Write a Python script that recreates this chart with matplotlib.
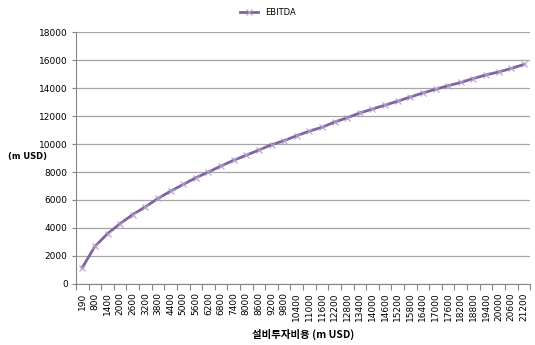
import matplotlib
matplotlib.use('Agg')
import matplotlib.pyplot as plt
import numpy as np

plt.rcParams['font.family'] = ['Noto Sans CJK KR', 'DejaVu Sans']

capex = [190] + list(range(800, 21201, 600))
ebitda = [1170, 2680, 3590, 4310, 4960, 5510, 6110, 6630, 7110, 7590,
          8000, 8430, 8840, 9200, 9570, 9950, 10240, 10600, 10920, 11200,
          11570, 11880, 12220, 12500, 12780, 13060, 13360, 13650, 13910, 14170,
          14400, 14680, 14940, 15150, 15400, 15690]
yticks = np.arange(0, 18001, 2000)

fig = plt.figure(figsize=(5.35, 3.45), dpi=100)
ax = fig.add_axes([0.142, 0.177, 0.849, 0.730])

x = np.arange(len(capex))
ax.plot(x, ebitda, color='#8064A2', lw=2, marker='x', ms=5, mew=0.8,
        mec='#B3A2C7', label='EBITDA', zorder=3)

ax.set_xlim(-0.5, len(capex) - 0.5)
ax.set_ylim(0, 18000)
ax.set_yticks(yticks)
ax.set_yticklabels([str(v) for v in yticks], fontsize=6.5, family='DejaVu Sans')
ax.set_xticks(x)
ax.set_xticklabels([str(v) for v in capex], rotation=90, fontsize=6.5,
                   family='DejaVu Sans')
ax.set_xticks(np.arange(-0.5, len(capex), 1), minor=True)
ax.tick_params(axis='x', which='major', length=0, pad=6)
ax.tick_params(axis='x', which='minor', length=4, color='#868686', width=0.8)
ax.tick_params(axis='y', length=3, color='#868686', width=0.8, pad=3)

ax.grid(axis='y', color='#a6a6a6', lw=0.9)
ax.set_axisbelow(True)
for side in ['top', 'right']:
    ax.spines[side].set_visible(False)
for side in ['left', 'bottom']:
    ax.spines[side].set_color('#868686')
    ax.spines[side].set_linewidth(0.8)

fig.text(0.015, 0.545, '(m USD)', fontsize=6, fontweight='bold', va='center',
         family='DejaVu Sans')
ax.set_xlabel('설비투자비용 (m USD)', fontsize=7.5, fontweight='bold', labelpad=6)

fig.legend(loc='upper center', bbox_to_anchor=(0.5, 1.0), frameon=False,
           fontsize=6, handlelength=2.2, prop={'family': 'DejaVu Sans', 'size': 6})

fig.savefig('out.png', dpi=100)
